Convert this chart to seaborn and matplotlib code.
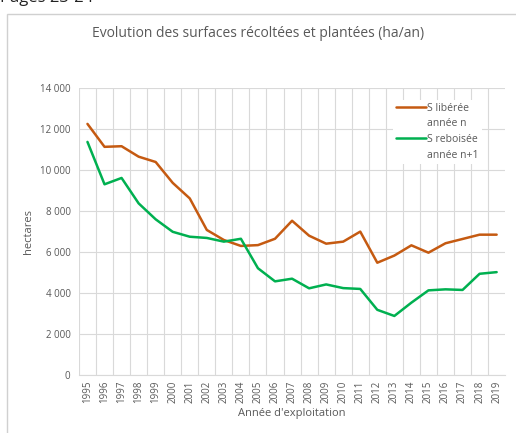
import pandas as pd
import matplotlib.pyplot as plt
import matplotlib.ticker as mticker
from matplotlib.patches import Rectangle
from matplotlib.lines import Line2D
import seaborn as sns

# Data
years = list(range(1995, 2020))
s_liberee = [12250, 11130, 11160, 10650, 10390, 9370, 8610, 7070, 6580, 6290,
             6330, 6640, 7520, 6790, 6400, 6500, 6990, 5470, 5820, 6320,
             5960, 6420, 6630, 6840, 6840]
s_reboisee = [11370, 9300, 9610, 8370, 7590, 6980, 6740, 6680, 6500, 6640,
              5200, 4560, 4690, 4220, 4410, 4230, 4190, 3170, 2870, 3520,
              4120, 4170, 4140, 4930, 5010]
series = ['S libérée', 'S reboisée']
series_sub = ['année n', 'année n+1']
colors = ['#C55A11', '#00B050']

df = pd.DataFrame({'year': years, series[0]: s_liberee, series[1]: s_reboisee})
df_long = df.melt(id_vars='year', var_name='serie', value_name='ha')

sns.set_style('white')
plt.rcParams['font.family'] = ['Open Sans', 'DejaVu Sans']
grey = '#595959'

fig = plt.figure(figsize=(5.16, 4.33), dpi=100)
ax = fig.add_axes([0.153, 0.1346, 0.826, 0.662])

sns.lineplot(data=df_long, x='year', y='ha', hue='serie', palette=colors,
             linewidth=1.8, ax=ax, legend=False)

ax.set_xlim(1994.5, 2019.5)
ax.set_ylim(0, 14000)
ax.set_xticks(years)
ax.set_xticklabels([str(y) for y in years], rotation=90, fontsize=7, color=grey)
ax.set_xticks([y + 0.5 for y in years[:-1]] + [1994.5], minor=True)
ax.yaxis.set_major_locator(mticker.MultipleLocator(2000))
ax.yaxis.set_major_formatter(mticker.FuncFormatter(lambda v, p: f'{int(v):,}'.replace(',', ' ')))
ax.tick_params(axis='y', labelsize=7, colors=grey, length=0, pad=6)
ax.tick_params(axis='x', which='both', length=0, pad=4)
ax.grid(axis='y', which='major', color='#D9D9D9', linewidth=0.8)
ax.grid(axis='x', which='minor', color='#D9D9D9', linewidth=0.8)
for s in ['top', 'right', 'left']:
    ax.spines[s].set_visible(False)
ax.spines['bottom'].set_color('#D9D9D9')

ax.set_xlabel("Année d'exploitation", fontsize=8, color=grey, labelpad=4)
ax.set_ylabel('hectares', fontsize=8, color=grey, labelpad=4)

# legend: line handle beside the first line of each two-line label
handles, texts = [], []
for name, sub, c in zip(series, series_sub, colors):
    handles.append(Line2D([], [], color=c, linewidth=1.8))
    texts.append(name)
    handles.append(Line2D([], [], color='none'))
    texts.append(sub)
leg = ax.legend(handles, texts, loc='upper left', bbox_to_anchor=(0.737, 0.96),
                fontsize=7.5, frameon=True, facecolor='white', edgecolor='none',
                framealpha=1, handlelength=2.9, handletextpad=0.1,
                labelspacing=0.45, borderpad=0.3, borderaxespad=0, fancybox=False)
for t in leg.get_texts():
    t.set_color(grey)

fig.text(0.5, 0.922, 'Evolution des surfaces récoltées et plantées (ha/an)',
         ha='center', va='center', fontsize=10, color=grey)
fig.text(0.0, 1.005, 'Pages 23-24', ha='left', va='center', fontsize=12, color='#222222')
fig.patches.append(Rectangle((0.0136, -0.1), 1.1, 1.068, transform=fig.transFigure,
                             fill=False, edgecolor='#D0D0D0', linewidth=1))

plt.savefig('out.png', dpi=100)
